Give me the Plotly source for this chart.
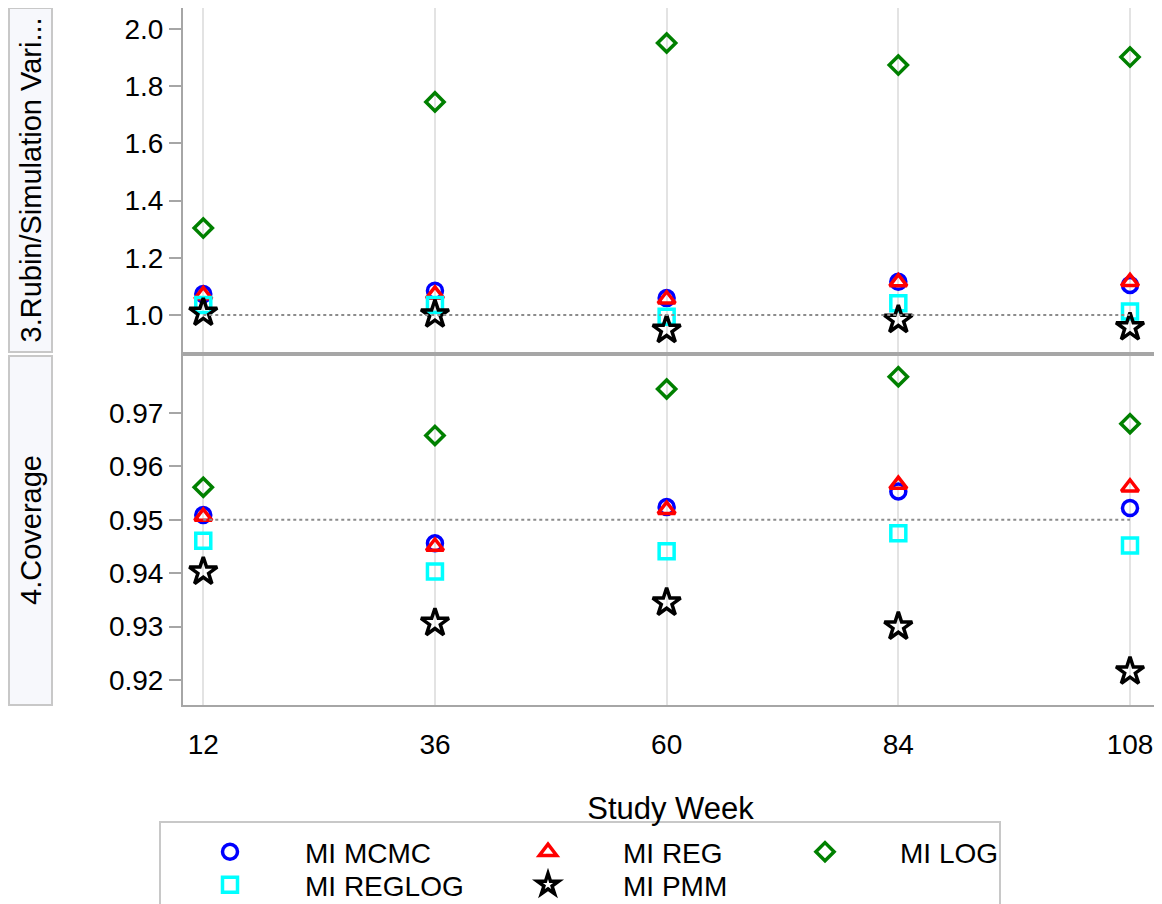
import plotly.graph_objects as go

weeks = [12, 36, 60, 84, 108]
week_labels = ["12", "36", "60", "84", "108"]
methods = ["MI MCMC", "MI REG", "MI LOG", "MI REGLOG", "MI PMM"]

# Panel 3: Rubin / Simulation variance ratio
ratio_mcmc = [1.073, 1.085, 1.059, 1.116, 1.105]
ratio_reg = [1.070, 1.072, 1.055, 1.115, 1.116]
ratio_log = [1.304, 1.745, 1.951, 1.874, 1.902]
ratio_reglog = [1.035, 1.035, 0.994, 1.041, 1.012]
ratio_pmm = [1.008, 1.002, 0.948, 0.983, 0.957]

# Panel 4: coverage
cov_mcmc = [0.9509, 0.9456, 0.9524, 0.9553, 0.9522]
cov_reg = [0.9506, 0.9450, 0.9519, 0.9566, 0.9561]
cov_log = [0.9561, 0.9658, 0.9745, 0.9768, 0.9680]
cov_reglog = [0.9461, 0.9403, 0.9441, 0.9475, 0.9452]
cov_pmm = [0.9403, 0.9307, 0.9345, 0.9300, 0.9216]

ratio_ticks = [1.0, 1.2, 1.4, 1.6, 1.8, 2.0]
cov_ticks = [0.92, 0.93, 0.94, 0.95, 0.96, 0.97]
ratio_ref = 1.0
cov_ref = 0.95

panel_labels = ["3.Rubin/Simulation Vari...", "4.Coverage"]

ratio_series = [ratio_mcmc, ratio_reg, ratio_log, ratio_reglog, ratio_pmm]
cov_series = [cov_mcmc, cov_reg, cov_log, cov_reglog, cov_pmm]

styles = {
    "MI MCMC": dict(symbol="circle-open", color="#0000FF", size=15),
    "MI REG": dict(symbol="triangle-up-open", color="#FF0000", size=15),
    "MI LOG": dict(symbol="diamond-open", color="#008000", size=14),
    "MI REGLOG": dict(symbol="square-open", color="#00FFFF", size=15),
    "MI PMM": dict(symbol="star-open", color="#000000", size=21),
}

# page offset (browser body margin) compensation
OFF = 8
W, H = 1162 - OFF, 904 - OFF
# plot area in screen px: left 183, right 1158, top 8, bottom 705
ml = 183 - OFF
mr = W - (1158 - OFF)
mt = 8 - OFF
mb = H - (705 - OFF)
pw = W - ml - mr
ph = H - mt - mb


def xp(a):
    return (a - OFF - ml) / pw


def yp(a):
    return ((705 - OFF) - (a - OFF)) / ph


# legend layout (screen px): marker centre x, row centre y
legend_pos = {
    "MI MCMC": (230, 853),
    "MI REG": (548, 853),
    "MI LOG": (825, 853),
    "MI REGLOG": (230, 886),
    "MI PMM": (548, 886),
}
legend_gap = 75  # marker centre -> text start
itemw = 2 * legend_gap - 10

fig = go.Figure()

legend_layouts = {}
for i, (name, rv, cv) in enumerate(zip(methods, ratio_series, cov_series)):
    st = styles[name]
    mk = dict(symbol=st["symbol"], size=st["size"], color=st["color"],
              line=dict(color=st["color"], width=3.5))
    lg = "legend" if i == 0 else f"legend{i + 1}"
    fig.add_trace(go.Scatter(x=weeks, y=rv, mode="markers", name=name,
                             marker=mk, xaxis="x2", yaxis="y2",
                             showlegend=True, legend=lg))
    fig.add_trace(go.Scatter(x=weeks, y=cv, mode="markers", name=name,
                             marker=mk, xaxis="x", yaxis="y",
                             showlegend=False, legend=lg))
    mx, my = legend_pos[name]
    legend_layouts[lg] = dict(
        x=xp(mx - legend_gap), xanchor="left",
        y=yp(my - 26), yanchor="top",
        bgcolor="rgba(0,0,0,0)", borderwidth=0,
        font=dict(size=28, color="black"), itemwidth=itemw,
        itemsizing="trace", orientation="v",
    )

grid_col = "#E3E3E3"
line_col = "#A6A6A6"
font_fam = "Arial, Liberation Sans, sans-serif"

top_dom = [yp(352), 1.0]
bot_dom = [0.0, yp(356)]

xrange = [9.9, 110.9]

common_x = dict(range=xrange, tickvals=weeks, ticktext=week_labels,
                showgrid=True, gridcolor=grid_col, gridwidth=2,
                showline=True, linecolor=line_col, linewidth=2, mirror=True,
                zeroline=False, automargin=False)

ycommon = dict(showgrid=False, zeroline=False, showline=True, linecolor=line_col,
               linewidth=2, mirror=True, ticks="outside", ticklen=12,
               tickcolor=line_col, tickwidth=2, tickfont=dict(size=28),
               automargin=False)

fig.update_layout(
    width=W, height=H,
    margin=dict(l=ml, r=mr, t=mt, b=mb, pad=0, autoexpand=False),
    plot_bgcolor="white", paper_bgcolor="white",
    font=dict(family=font_fam, size=28, color="black"),
    xaxis=dict(**common_x, anchor="y", ticks="", ticklabelstandoff=13,
               tickfont=dict(size=28),
               title=dict(text="Study Week", font=dict(size=31), standoff=39)),
    xaxis2=dict(**common_x, anchor="y2", matches="x", showticklabels=False, ticks=""),
    yaxis=dict(domain=bot_dom, range=[0.91532, 0.98068], tickvals=cov_ticks,
               ticktext=[f"{v:.2f}" for v in cov_ticks], **ycommon),
    yaxis2=dict(domain=top_dom, range=[0.8706, 2.0734], tickvals=ratio_ticks,
                ticktext=[f"{v:.1f}" for v in ratio_ticks], **ycommon),
    **legend_layouts,
)

# legend frame
fig.add_shape(type="rect", xref="paper", yref="paper",
              x0=xp(160), x1=xp(1000), y0=yp(915), y1=yp(822),
              line=dict(color="#C8C8C8", width=2), fillcolor="rgba(0,0,0,0)")

# reference lines
fig.add_shape(type="line", xref="x2", yref="y2", x0=weeks[0], x1=weeks[-1],
              y0=ratio_ref, y1=ratio_ref, line=dict(color="#8C8C8C", width=2, dash="dot"))
fig.add_shape(type="line", xref="x", yref="y", x0=weeks[0], x1=weeks[-1],
              y0=cov_ref, y1=cov_ref, line=dict(color="#8C8C8C", width=2, dash="dot"))

# side strips
sx0 = xp(9)
sx1 = xp(52)
for dom, label in zip([top_dom, bot_dom], panel_labels):
    fig.add_shape(type="rect", xref="paper", yref="paper", x0=sx0, x1=sx1,
                  y0=dom[0], y1=dom[1], fillcolor="#F7F8FC",
                  line=dict(color="#C8C8C8", width=2), layer="below")
    fig.add_annotation(xref="paper", yref="paper", x=(sx0 + sx1) / 2,
                       y=(dom[0] + dom[1]) / 2, text=label, textangle=-90,
                       showarrow=False, font=dict(size=29, color="black"),
                       xanchor="center", yanchor="middle")

fig.write_html("out.html")
